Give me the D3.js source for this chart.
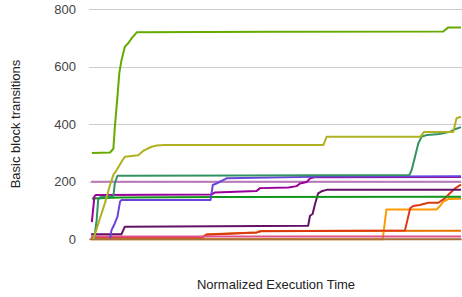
<!DOCTYPE html>
<html>
<head>
<meta charset="utf-8">
<script src="https://cdn.jsdelivr.net/npm/d3@7"></script>
<style>
  html, body { margin: 0; padding: 0; background: #fff; }
  svg { display: block; font-family: "Liberation Sans", Arial, sans-serif; }
</style>
</head>
<body>
<svg id="chart" width="462" height="297"></svg>
<script>
// ---- data (x = normalized execution time in %, y = basic block transitions) ----
const yTicks = [0, 200, 400, 600, 800];
const xTitle = "Normalized Execution Time";
const yTitle = "Basic block transitions";

const seriesNames = ["darkOrange","orange","red","pink","brown","darkPurple","green","orchid","magenta","violet","teal","olive","lightGreen"];
const seriesColors = ["#e67300","#ff9900","#dc3912","#e0528a","#a8703a","#651067","#109618","#bb77bb","#990099","#6a44d8","#329262","#b0b020","#66aa00"];

const brown = [[0,0],[100,0]];
const pink = [[0.3,10],[100,10]];
const red = [[0.3,6],[30,6],[31.5,16],[45,24],[46,28],[84.9,31],[86.3,108],[87.1,116],[88.9,119],[91.2,127],[93.9,127],[95.7,143],[97,160],[98.4,177],[100,190]];
const darkOrange = [[0.3,2],[30,3],[31.5,18],[45,24],[46,29],[100,30]];
const orange = [[0.3,0],[78.9,0],[79.9,104],[93.4,104],[94.3,115],[95.2,131],[96.6,140],[100,141]];
const darkPurple = [[0.3,18],[8.5,18],[9.4,44],[58.8,47],[59.3,82],[60,88],[60.6,120],[61.5,160],[62.4,167],[63.8,172],[100,172]];
const green = [[0.5,142],[8,145],[35,147],[100,148]];
const orchid = [[0.3,200],[100,200]];
const magenta = [[0.5,60],[1.2,150],[1.6,154],[32.8,156],[33.7,163],[44.9,168],[45.8,178],[53.5,180],[55.7,185],[56.6,194],[58.4,199],[59.3,212],[60.5,216],[100,217]];
const violet = [[5.4,3],[5.8,32],[6.7,56],[7.4,79],[8.1,131],[8.5,137],[32.5,137],[33.1,189],[34.2,195],[36.4,209],[36.8,212],[63.8,218],[100,219]];
const teal = [[1.1,0],[1.8,67],[2.2,137],[2.7,146],[6.3,150],[6.7,195],[7.4,221],[40,222],[86.1,224],[86.7,241],[87.6,287],[88.5,334],[89.4,357],[90.8,363],[93.5,365],[95.2,369],[97,374],[98.4,383],[100,390]];
const olive = [[0.9,0],[2.7,73],[4.0,125],[5.4,189],[6.3,224],[7.2,241],[8.5,270],[9.4,287],[13.0,292],[14.4,308],[15.3,314],[16.6,322],[18.0,326],[20.2,328],[62.9,328],[63.8,357],[89.1,357],[90.0,373],[97.9,373],[98.8,421],[100,426]];
const lightGreen = [[0.5,300],[5.4,302],[6.3,315],[6.7,390],[7.4,496],[7.9,578],[8.5,624],[9.4,670],[10.3,682],[11.2,699],[12.6,720],[50,722],[95.2,723],[96.6,737],[100,737]];

// draw order: low lines first; brown/pink over the orange lines near zero
const seriesData = [darkOrange, orange, red, pink, brown, darkPurple, green, orchid, magenta, violet, teal, olive, lightGreen];

// ---- layout ----
const svg = d3.select("#chart");
const x = d3.scaleLinear().domain([0, 100]).range([90, 461]);
const y = d3.scaleLinear().domain([0, 800]).range([239.3, 9.3]);

// gridlines
svg.append("g").selectAll("line")
  .data(yTicks.filter(d => d !== 0))
  .join("line")
  .attr("x1", 89).attr("x2", 462)
  .attr("y1", d => Math.round(y(d)) + 0.5).attr("y2", d => Math.round(y(d)) + 0.5)
  .attr("stroke", "#cccccc").attr("stroke-width", 1);

// baseline
svg.append("line")
  .attr("x1", 89).attr("x2", 462)
  .attr("y1", y(0)).attr("y2", y(0))
  .attr("stroke", "#888").attr("stroke-width", 1);

// y axis labels
const yAxis = d3.axisLeft(y).tickValues(yTicks).tickSize(0).tickPadding(0).tickFormat(d3.format("d"));
const gy = svg.append("g").attr("transform", "translate(76,0)").call(yAxis);
gy.select(".domain").remove();
gy.selectAll("text")
  .attr("font-family", "Liberation Sans, Arial, sans-serif")
  .attr("font-size", 13).attr("fill", "#444");

// lines
const line = d3.line().x(d => x(d[0])).y(d => y(d[1]));
svg.append("g").selectAll("path")
  .data(seriesData)
  .join("path")
  .attr("d", line)
  .attr("fill", "none")
  .attr("stroke", (d, i) => seriesColors[i])
  .attr("stroke-width", 2)
  .attr("stroke-linejoin", "round");

// axis titles
svg.append("text")
  .attr("x", 276).attr("y", 289)
  .attr("text-anchor", "middle")
  .attr("font-size", 13).attr("fill", "#222")
  .text(xTitle);

svg.append("text")
  .attr("transform", "translate(20,124) rotate(-90)")
  .attr("text-anchor", "middle")
  .attr("font-size", 13).attr("fill", "#222")
  .text(yTitle);
</script>
</body>
</html>
